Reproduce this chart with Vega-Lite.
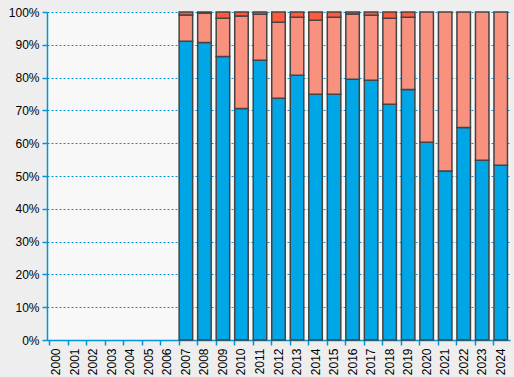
{
  "$schema": "https://vega.github.io/schema/vega-lite/v6.json",
  "autosize": {"type": "none"},
  "width": 463,
  "height": 328,
  "padding": {"left": 47, "top": 12, "right": 4, "bottom": 37},
  "background": "#eeeeee",
  "config": {
    "view": {"fill": "#f8f8f8", "stroke": null},
    "font": "Liberation Sans"
  },
  "data": {
    "values": [
      {"year": "2007", "series": "A", "value": 91.1}, {"year": "2007", "series": "B", "value": 8.0}, {"year": "2007", "series": "C", "value": 0.9},
      {"year": "2008", "series": "A", "value": 90.7}, {"year": "2008", "series": "B", "value": 8.9}, {"year": "2008", "series": "C", "value": 0.4},
      {"year": "2009", "series": "A", "value": 86.4}, {"year": "2009", "series": "B", "value": 11.7}, {"year": "2009", "series": "C", "value": 1.9},
      {"year": "2010", "series": "A", "value": 70.6}, {"year": "2010", "series": "B", "value": 28.2}, {"year": "2010", "series": "C", "value": 1.2},
      {"year": "2011", "series": "A", "value": 85.3}, {"year": "2011", "series": "B", "value": 14.0}, {"year": "2011", "series": "C", "value": 0.7},
      {"year": "2012", "series": "A", "value": 73.7}, {"year": "2012", "series": "B", "value": 23.2}, {"year": "2012", "series": "C", "value": 3.1},
      {"year": "2013", "series": "A", "value": 80.7}, {"year": "2013", "series": "B", "value": 17.7}, {"year": "2013", "series": "C", "value": 1.6},
      {"year": "2014", "series": "A", "value": 74.9}, {"year": "2014", "series": "B", "value": 22.6}, {"year": "2014", "series": "C", "value": 2.5},
      {"year": "2015", "series": "A", "value": 74.9}, {"year": "2015", "series": "B", "value": 23.5}, {"year": "2015", "series": "C", "value": 1.6},
      {"year": "2016", "series": "A", "value": 79.5}, {"year": "2016", "series": "B", "value": 19.9}, {"year": "2016", "series": "C", "value": 0.6},
      {"year": "2017", "series": "A", "value": 79.2}, {"year": "2017", "series": "B", "value": 19.8}, {"year": "2017", "series": "C", "value": 1.0},
      {"year": "2018", "series": "A", "value": 71.9}, {"year": "2018", "series": "B", "value": 26.2}, {"year": "2018", "series": "C", "value": 1.9},
      {"year": "2019", "series": "A", "value": 76.4}, {"year": "2019", "series": "B", "value": 22.0}, {"year": "2019", "series": "C", "value": 1.6},
      {"year": "2020", "series": "A", "value": 60.3}, {"year": "2020", "series": "B", "value": 39.7},
      {"year": "2021", "series": "A", "value": 51.5}, {"year": "2021", "series": "B", "value": 48.5},
      {"year": "2022", "series": "A", "value": 64.8}, {"year": "2022", "series": "B", "value": 35.2},
      {"year": "2023", "series": "A", "value": 54.8}, {"year": "2023", "series": "B", "value": 45.2},
      {"year": "2024", "series": "A", "value": 53.3}, {"year": "2024", "series": "B", "value": 46.7}
    ]
  },
  "mark": {"type": "bar", "stroke": "#444444", "strokeWidth": 1.5},
  "encoding": {
    "x": {
      "field": "year",
      "type": "nominal",
      "scale": {
        "domain": ["2000","2001","2002","2003","2004","2005","2006","2007","2008","2009","2010","2011","2012","2013","2014","2015","2016","2017","2018","2019","2020","2021","2022","2023","2024"],
        "paddingInner": 0.27,
        "paddingOuter": 0.135
      },
      "axis": {
        "title": null,
        "labelAngle": -90,
        "labelFontSize": 12,
        "labelColor": "#000000",
        "labelPadding": 3,
        "domainColor": "#0096d6",
        "domainWidth": 1.5,
        "tickColor": "#0096d6",
        "tickSize": 5,
        "tickWidth": 1.5,
        "bandPosition": 0
      }
    },
    "y": {
      "field": "value",
      "type": "quantitative",
      "stack": true,
      "scale": {"domain": [0, 100], "nice": false},
      "axis": {
        "title": null,
        "values": [0,10,20,30,40,50,60,70,80,90,100],
        "labelExpr": "datum.value + '%'",
        "labelFontSize": 12,
        "labelColor": "#000000",
        "labelPadding": 3,
        "domainColor": "#0096d6",
        "domainWidth": 1.5,
        "tickColor": "#0096d6",
        "tickSize": 5,
        "tickWidth": 1.5,
        "grid": true,
        "gridColor": "#0096d6",
        "gridDash": [2, 2],
        "gridWidth": 1.2,
        "gridOpacity": 1
      }
    },
    "color": {
      "field": "series",
      "type": "nominal",
      "scale": {"domain": ["A", "B", "C"], "range": ["#00a6e6", "#f9917f", "#ff5a3c"]},
      "legend": null
    },
    "order": {"field": "series", "sort": "ascending"}
  }
}
